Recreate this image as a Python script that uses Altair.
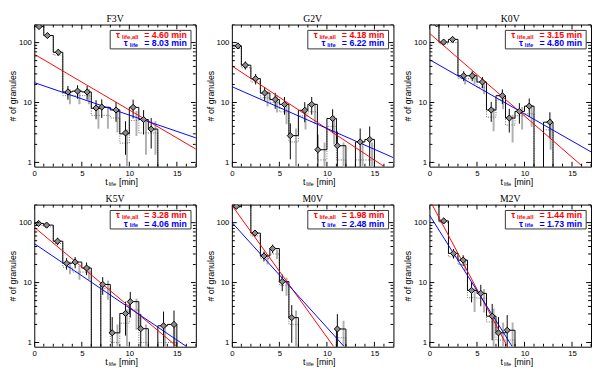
import altair as alt
import pandas as pd

W, H = 166, 146
YMIN, YMAX = 0.85, 200
ZERO = 0.5  # stands for an empty bin (below the plotted range)

names = ["F3V", "G2V", "K0V", "K5V", "M0V", "M2V"]
tau_all = ["4.60", "4.18", "3.15", "3.28", "1.98", "1.44"]
tau_life = ["8.03", "6.22", "4.80", "4.06", "2.48", "1.73"]

# solid histograms: granule counts in 1-min bins starting at t = 0
f3v_hist = [185, 131, 69, 15, 15.5, 15, 8, 8.3, 7.5, 3, 8.3, 5.2, 3.6]
g2v_hist = [88, 42, 25, 14.4, 11.2, 9.3, 2.8, 7.4, 9.3, 1.63, 5.4, 1.9, 0, 2.2, 2.42]
k0v_hist = [260, 102, 113, 28, 28, 22, 7.5, 13, 5.5, 7.1, 8.7, 0, 4.7]
k5v_hist = [97, 91, 49, 21, 22, 17.5, 0, 9.3, 1.45, 3.05, 4.8, 1.7, 0, 1.9, 2.0]
m0v_hist = [187, 260, 67, 27.8, 37, 10.4, 2.6, 0, 0, 0, 0, 1.68]
m2v_hist = [260, 107, 30.7, 23.7, 7.4, 6.6, 2.75, 1.45, 1.6]

# dotted histograms (sub-sample), same bins
f3v_dot = [185, 131, 62, 13, 13, 13, 6.1, 6.1, 5.5, 2.1, 5, 3.1, 3.1]
g2v_dot = [80, 38, 22, 12, 10, 7, 2.2, 6, 7, 1.1, 4, 1.1, 0, 1.1, 1.1]
k0v_dot = [260, 95, 100, 25, 25, 18, 5.7, 11, 4.2, 6, 6.5, 0, 3.5]
k5v_dot = [90, 85, 45, 18, 15, 15, 0, 8, 1.0, 2.1, 3.5, 1.0, 0, 1.0, 1.0]
m0v_dot = [180, 250, 60, 25, 30, 9, 2.0, 0, 0, 0, 0, 1.2]
m2v_dot = [250, 100, 27, 20, 5.6, 5.5, 2.2, 1.1, 1.1]

# diamonds: mean lifetime of each bin and its count
f3v_pt_t = [0.5, 1.38, 2.53, 3.54, 4.55, 5.56, 6.5, 7.1, 8.6, 9.6, 10.4, 11.5, 12.3]
f3v_pt_n = [185, 131, 69, 15, 15.5, 15, 8.1, 8.4, 7.5, 3.1, 8.3, 5.2, 3.6]
g2v_pt_t = [0.64, 1.42, 2.5, 3.45, 4.56, 5.54, 6.15, 7.67, 8.4, 9.05, 10.6, 11.1, 13.5, 14.5]
g2v_pt_n = [88, 42, 25, 14.4, 11.2, 9.3, 2.8, 7.4, 9.3, 1.63, 5.4, 1.9, 2.2, 2.42]
k0v_pt_t = [0.75, 1.49, 2.43, 3.6, 4.5, 5.57, 6.5, 7.67, 8.4, 9.46, 10.5, 12.67]
k0v_pt_n = [205, 102, 113, 28, 28, 22, 7.5, 13, 5.5, 7.1, 8.7, 4.7]
k5v_pt_t = [0.45, 1.3, 2.45, 3.4, 4.3, 5.5, 7.2, 8.2, 9.6, 10.1, 11.2, 13.6, 14.7]
k5v_pt_n = [97, 91, 49, 21, 22, 17.5, 9.3, 1.45, 3.05, 4.8, 1.7, 1.9, 2.0]
m0v_pt_t = [0.47, 2.43, 3.38, 4.29, 5.3, 6.3, 11.1]
m0v_pt_n = [187, 67, 27.8, 37, 10.4, 2.6, 1.68]
m2v_pt_t = [1.5, 2.53, 3.55, 4.43, 5.4, 6.6, 7.26, 8.18]
m2v_pt_n = [107, 30.7, 23.7, 7.4, 6.6, 2.75, 1.45, 1.6]

# exponential fits, read as visible end points (t, N)
f3v_red = [(0, 64), (17, 1.67)]
f3v_blue = [(0, 21.5), (17, 2.57)]
g2v_red = [(0, 40.8), (16.0, 0.86)]
g2v_blue = [(0, 18.4), (17, 1.2)]
k0v_red = [(0, 143), (16.1, 0.86)]
k0v_blue = [(0, 52), (17, 1.5)]
k5v_red = [(0, 84), (15.0, 0.86)]
k5v_blue = [(0, 44.7), (16.0, 0.86)]
m0v_red = [(0, 195), (10.7, 0.86)]
m0v_blue = [(0, 101), (11.8, 0.86)]
m2v_red = [(0.28, 200), (8.2, 0.86)]
m2v_blue = [(0, 134), (8.7, 0.86)]

# axis tick positions
x_major = [0, 5, 10, 15]
x_minor = [1, 2, 3, 4, 6, 7, 8, 9, 11, 12, 13, 14, 16, 17]
y_major = [1, 10, 100]
y_minor = [2, 3, 4, 5, 6, 7, 8, 9, 20, 30, 40, 50, 60, 70, 80, 90, 200]

hists = [f3v_hist, g2v_hist, k0v_hist, k5v_hist, m0v_hist, m2v_hist]
dots = [f3v_dot, g2v_dot, k0v_dot, k5v_dot, m0v_dot, m2v_dot]
pts_t = [f3v_pt_t, g2v_pt_t, k0v_pt_t, k5v_pt_t, m0v_pt_t, m2v_pt_t]
pts_n = [f3v_pt_n, g2v_pt_n, k0v_pt_n, k5v_pt_n, m0v_pt_n, m2v_pt_n]
reds = [f3v_red, g2v_red, k0v_red, k5v_red, m0v_red, m2v_red]
blues = [f3v_blue, g2v_blue, k0v_blue, k5v_blue, m0v_blue, m2v_blue]

SANS = "Liberation Sans"
xs = alt.Scale(domain=[0, 17], nice=False, zero=False)
ys = alt.Scale(type="log", domain=[YMIN, YMAX], nice=False)
xax = alt.Axis(values=x_major, title=None, format="d", labelPadding=3, labelFlush=False)
yax = alt.Axis(values=y_major, title="# of granules", format="d", labelPadding=3,
               titlePadding=1)


def X(f):
    return alt.X(f, type="quantitative", scale=xs, axis=xax)


def Y(f):
    return alt.Y(f, type="quantitative", scale=ys, axis=yax)


one = pd.DataFrame({"a": [0]})


def txt(s, x, y, size, color, weight="bold", align="left", font=SANS):
    return alt.Chart(one).mark_text(
        text=s, align=align, baseline="middle", fontSize=size, font=font,
        fontWeight=weight, color=color
    ).encode(x=alt.value(x), y=alt.value(y))


def steps(vals):
    return pd.DataFrame({
        "t": list(range(len(vals) + 1)),
        "n": [v if v > 0 else ZERO for v in vals] + [ZERO],
    })


def panel(i):
    step = steps(hists[i])
    dstep = steps(dots[i])
    dbars = pd.DataFrame({
        "t": [k + 0.75 for k, v in enumerate(dots[i]) if v > 0 and k >= 3],
        "n": [v for k, v in enumerate(dots[i]) if v > 0 and k >= 3],
    })
    pts = pd.DataFrame({"t": pts_t[i], "n": pts_n[i]})
    red = pd.DataFrame(reds[i], columns=["t", "n"])
    blue = pd.DataFrame(blues[i], columns=["t", "n"])
    err = dict(lo="max(datum.n - sqrt(datum.n), 0.5)", hi="datum.n + sqrt(datum.n)")

    layers = []
    # grey error bars of the dotted histogram
    layers.append(alt.Chart(dbars).transform_calculate(**err)
                  .mark_rule(color="#b0b0b0", strokeWidth=2, clip=True)
                  .encode(x=X("t"), y=Y("lo"), y2="hi"))
    # dotted histogram
    layers.append(alt.Chart(dstep).mark_line(interpolate="step-after", color="#6a6a6a",
                                             strokeWidth=1, strokeDash=[1, 1.5], clip=True)
                  .encode(x=X("t"), y=Y("n")))
    # solid histogram
    layers.append(alt.Chart(step).mark_line(interpolate="step-after", color="black",
                                            strokeWidth=1, clip=True)
                  .encode(x=X("t"), y=Y("n")))
    layers.append(alt.Chart(pts).transform_calculate(**err)
                  .mark_rule(color="black", strokeWidth=1, clip=True)
                  .encode(x=X("t"), y=Y("lo"), y2="hi"))
    layers.append(alt.Chart(red).mark_line(color="#ff0000", strokeWidth=1, clip=True)
                  .encode(x=X("t"), y=Y("n")))
    layers.append(alt.Chart(blue).mark_line(color="#0000ff", strokeWidth=1, clip=True)
                  .encode(x=X("t"), y=Y("n")))
    layers.append(alt.Chart(pts).mark_point(shape="diamond", filled=True, fill="#8c8c8c",
                                            stroke="black", strokeWidth=1, size=40,
                                            opacity=1, clip=True)
                  .encode(x=X("t"), y=Y("n")))

    # inner ticks on all four sides
    for vals, ln in ((y_major, 5), (y_minor, 3)):
        d = pd.DataFrame({"v": vals})
        layers.append(alt.Chart(d).mark_rule(color="black", strokeWidth=1, clip=True)
                      .encode(y=Y("v"), x=alt.value(0), x2=alt.value(ln)))
        layers.append(alt.Chart(d).mark_rule(color="black", strokeWidth=1, clip=True)
                      .encode(y=Y("v"), x=alt.value(W), x2=alt.value(W - ln)))
    for vals, ln in ((x_major, 5), (x_minor, 3)):
        d = pd.DataFrame({"v": vals})
        layers.append(alt.Chart(d).mark_rule(color="black", strokeWidth=1, clip=True)
                      .encode(x=X("v"), y=alt.value(H), y2=alt.value(H - ln)))
        layers.append(alt.Chart(d).mark_rule(color="black", strokeWidth=1, clip=True)
                      .encode(x=X("v"), y=alt.value(0), y2=alt.value(ln)))

    # legend box
    layers.append(alt.Chart(one).mark_rect(fill="white", stroke="#333333", strokeWidth=1)
                  .encode(x=alt.value(W - 88), x2=alt.value(W - 5),
                          y=alt.value(6), y2=alt.value(25)))
    layers.append(txt("τ", W - 82, 10.5, 9, "#ff0000"))
    layers.append(txt("life,all", W - 76, 12.5, 6, "#ff0000"))
    layers.append(txt("= " + tau_all[i] + " min", W - 53, 10.5, 9, "#ff0000"))
    layers.append(txt("τ", W - 74, 19.5, 9, "#0000ff"))
    layers.append(txt("life", W - 68, 21.5, 6, "#0000ff"))
    layers.append(txt("= " + tau_life[i] + " min", W - 53, 19.5, 9, "#0000ff"))

    # x axis title  t_life [min]
    c = W / 2
    layers.append(txt("t", c - 10, H + 16, 9, "black", weight="normal"))
    layers.append(txt("life", c - 6.5, H + 18, 6, "black", weight="normal"))
    layers.append(txt("[min]", c + 4, H + 16, 9, "black", weight="normal"))

    return alt.layer(*layers).properties(
        width=W, height=H,
        title=alt.TitleParams(names[i], fontSize=10, font="Liberation Serif",
                              fontWeight="normal", offset=1, anchor="middle"),
    )


row1 = alt.hconcat(panel(0), panel(1), panel(2), spacing=9)
row2 = alt.hconcat(panel(3), panel(4), panel(5), spacing=9)
chart = alt.vconcat(row1, row2, spacing=5).properties(
    padding={"left": 0, "top": 0, "right": 0, "bottom": 0}
).configure_view(
    stroke="black", strokeWidth=1
).configure_axis(
    grid=False, ticks=False, domain=False,
    labelFont=SANS, labelFontSize=8, labelColor="black",
    titleFont=SANS, titleFontSize=9, titleFontWeight="normal", titleColor="black",
).configure_title(color="black")

chart.save("out.html", embed_options={"renderer": "svg", "actions": False})
